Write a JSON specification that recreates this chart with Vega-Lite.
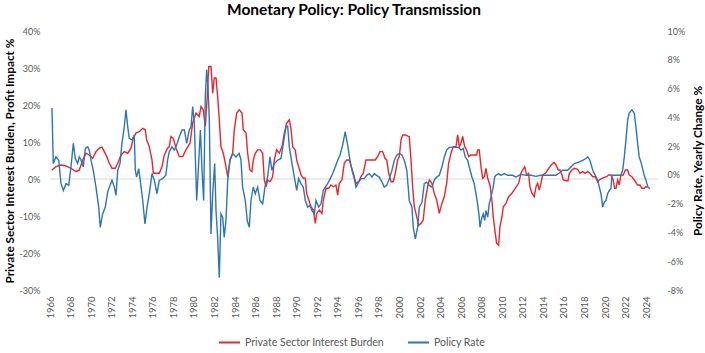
{
  "$schema": "https://vega.github.io/schema/vega-lite/v6.json",
  "width": 608,
  "height": 259,
  "autosize": {"type": "none"},
  "padding": {"left": 50, "top": 31, "right": 47, "bottom": 63},
  "background": "white",
  "title": {"text": "Monetary Policy: Policy Transmission", "font": "Lato", "fontSize": 15.5, "fontWeight": "bold", "color": "#000000", "anchor": "middle", "offset": 9},
  "config": {
    "view": {"stroke": null},
    "font": "Lato",
    "axis": {"labelFont": "Lato", "labelFontSize": 9, "labelColor": "#595959", "domain": false, "ticks": false, "grid": false, "titleFont": "Lato"},
    "axisX": {"labelOverlap": false, "labelFlush": false},
    "legend": {"labelFont": "Lato"}
  },
  "datasets": {
    "red": [
      {"t":1966.19,"v":2.44},{"t":1966.58,"v":3.33},{"t":1967.07,"v":3.79},{"t":1967.56,"v":3.52},{"t":1968.04,"v":2.9},{"t":1968.53,"v":1.98},{"t":1968.85,"v":2.44},{"t":1969.18,"v":5.15},{"t":1969.5,"v":6.96},{"t":1969.82,"v":6.5},
      {"t":1970.15,"v":5.6},{"t":1970.47,"v":7.4},{"t":1970.8,"v":8.32},{"t":1971.06,"v":8.59},{"t":1971.28,"v":7.4},{"t":1971.52,"v":6.04},{"t":1971.77,"v":4.25},{"t":1972.03,"v":2.9},{"t":1972.35,"v":2.9},{"t":1972.59,"v":4.25},
      {"t":1972.91,"v":6.5},{"t":1973.23,"v":7.4},{"t":1973.56,"v":6.96},{"t":1973.88,"v":8.32},{"t":1974.1,"v":11.0},{"t":1974.36,"v":12.4},{"t":1974.69,"v":12.8},{"t":1975.02,"v":13.7},{"t":1975.27,"v":13.3},{"t":1975.4,"v":10.6},
      {"t":1975.66,"v":8.75},{"t":1975.92,"v":5.15},{"t":1976.05,"v":1.54},{"t":1976.31,"v":1.54},{"t":1976.63,"v":1.54},{"t":1976.89,"v":3.33},{"t":1977.12,"v":6.5},{"t":1977.44,"v":8.32},{"t":1977.6,"v":8.75},{"t":1977.77,"v":11.5},
      {"t":1977.99,"v":11.0},{"t":1978.26,"v":8.32},{"t":1978.58,"v":6.04},{"t":1978.91,"v":6.04},{"t":1979.23,"v":7.86},{"t":1979.62,"v":9.67},{"t":1979.88,"v":15.1},{"t":1980.2,"v":17.8},{"t":1980.52,"v":16.9},{"t":1980.69,"v":19.6},
      {"t":1980.91,"v":18.7},{"t":1981.11,"v":14.2},{"t":1981.3,"v":22.3},{"t":1981.44,"v":30.4},{"t":1981.66,"v":30.4},{"t":1981.83,"v":23.2},{"t":1981.98,"v":27.3},{"t":1982.15,"v":27.3},{"t":1982.31,"v":22.3},{"t":1982.47,"v":16.0},
      {"t":1982.63,"v":8.75},{"t":1982.86,"v":6.96},{"t":1983.06,"v":4.25},{"t":1983.29,"v":0.62},{"t":1983.51,"v":5.15},{"t":1983.77,"v":6.96},{"t":1983.93,"v":13.3},{"t":1984.16,"v":17.8},{"t":1984.41,"v":18.7},{"t":1984.68,"v":17.8},
      {"t":1984.8,"v":13.3},{"t":1985.07,"v":12.4},{"t":1985.23,"v":6.96},{"t":1985.45,"v":2.44},{"t":1985.64,"v":1.98},{"t":1985.78,"v":5.15},{"t":1985.97,"v":6.96},{"t":1986.2,"v":7.86},{"t":1986.46,"v":7.86},{"t":1986.69,"v":6.96},
      {"t":1986.85,"v":-0.27},{"t":1987.02,"v":-2.09},{"t":1987.17,"v":-0.27},{"t":1987.4,"v":-0.73},{"t":1987.66,"v":0.62},{"t":1987.82,"v":5.15},{"t":1988.05,"v":7.86},{"t":1988.31,"v":6.96},{"t":1988.57,"v":8.75},{"t":1988.8,"v":12.4},
      {"t":1989.02,"v":15.1},{"t":1989.28,"v":16.0},{"t":1989.44,"v":13.7},{"t":1989.61,"v":8.75},{"t":1989.86,"v":7.86},{"t":1990.0,"v":5.15},{"t":1990.19,"v":3.33},{"t":1990.42,"v":1.08},{"t":1990.64,"v":0.19},{"t":1990.84,"v":0.19},
      {"t":1990.97,"v":-3.88},{"t":1991.17,"v":-5.69},{"t":1991.39,"v":-7.5},{"t":1991.62,"v":-8.4},{"t":1991.81,"v":-12.0},{"t":1991.95,"v":-9.3},{"t":1992.2,"v":-8.4},{"t":1992.46,"v":-9.3},{"t":1992.59,"v":-5.69},{"t":1992.85,"v":-2.52},
      {"t":1993.11,"v":-2.52},{"t":1993.33,"v":-1.63},{"t":1993.56,"v":-2.09},{"t":1993.82,"v":-1.63},{"t":1993.99,"v":-4.34},{"t":1994.14,"v":-1.17},{"t":1994.4,"v":-0.27},{"t":1994.63,"v":4.25},{"t":1994.86,"v":5.15},{"t":1995.12,"v":5.15},
      {"t":1995.31,"v":3.33},{"t":1995.5,"v":1.54},{"t":1995.77,"v":-1.17},{"t":1996.03,"v":-0.73},{"t":1996.25,"v":0.62},{"t":1996.48,"v":1.54},{"t":1996.74,"v":5.15},{"t":1997.0,"v":5.15},{"t":1997.32,"v":5.15},{"t":1997.64,"v":5.15},
      {"t":1997.87,"v":6.04},{"t":1998.1,"v":7.4},{"t":1998.36,"v":7.4},{"t":1998.59,"v":5.6},{"t":1998.76,"v":5.15},{"t":1998.95,"v":1.54},{"t":1999.18,"v":-0.73},{"t":1999.4,"v":-0.73},{"t":1999.59,"v":1.54},{"t":1999.82,"v":5.15},
      {"t":1999.98,"v":6.04},{"t":2000.15,"v":10.6},{"t":2000.31,"v":11.9},{"t":2000.57,"v":11.9},{"t":2000.82,"v":11.6},{"t":2000.95,"v":11.5},{"t":2001.12,"v":5.15},{"t":2001.28,"v":-2.09},{"t":2001.44,"v":-7.5},{"t":2001.6,"v":-9.3},
      {"t":2001.86,"v":-12.5},{"t":2002.09,"v":-12.0},{"t":2002.31,"v":-11.1},{"t":2002.51,"v":-5.69},{"t":2002.74,"v":-2.09},{"t":2002.9,"v":-0.27},{"t":2003.16,"v":-1.17},{"t":2003.38,"v":-3.88},{"t":2003.62,"v":-5.69},{"t":2003.87,"v":-9.3},
      {"t":2004.13,"v":-6.6},{"t":2004.36,"v":-4.8},{"t":2004.59,"v":-1.17},{"t":2004.78,"v":4.25},{"t":2005.01,"v":6.96},{"t":2005.23,"v":8.75},{"t":2005.5,"v":8.75},{"t":2005.66,"v":11.9},{"t":2005.82,"v":8.75},{"t":2005.98,"v":9.67},
      {"t":2006.15,"v":11.5},{"t":2006.34,"v":8.75},{"t":2006.53,"v":7.86},{"t":2006.73,"v":6.04},{"t":2006.95,"v":6.5},{"t":2007.27,"v":6.5},{"t":2007.51,"v":6.5},{"t":2007.6,"v":7.86},{"t":2007.76,"v":7.86},{"t":2007.93,"v":3.33},
      {"t":2008.09,"v":0.19},{"t":2008.25,"v":0.62},{"t":2008.41,"v":2.9},{"t":2008.58,"v":0.19},{"t":2008.8,"v":-1.63},{"t":2008.99,"v":-5.69},{"t":2009.12,"v":-10.2},{"t":2009.32,"v":-14.7},{"t":2009.45,"v":-17.4},{"t":2009.65,"v":-17.9},
      {"t":2009.77,"v":-12.9},{"t":2009.97,"v":-10.2},{"t":2010.1,"v":-7.5},{"t":2010.36,"v":-6.6},{"t":2010.62,"v":-4.8},{"t":2010.94,"v":-3.88},{"t":2011.26,"v":-2.52},{"t":2011.59,"v":-1.17},{"t":2011.82,"v":1.54},{"t":2011.98,"v":2.44},
      {"t":2012.18,"v":3.33},{"t":2012.37,"v":1.08},{"t":2012.56,"v":1.54},{"t":2012.69,"v":-2.09},{"t":2012.89,"v":-3.88},{"t":2013.11,"v":-4.8},{"t":2013.28,"v":-2.09},{"t":2013.44,"v":-1.17},{"t":2013.6,"v":-2.98},{"t":2013.76,"v":-1.17},
      {"t":2013.93,"v":1.08},{"t":2014.18,"v":1.54},{"t":2014.41,"v":2.44},{"t":2014.64,"v":3.33},{"t":2014.9,"v":4.25},{"t":2015.06,"v":4.42},{"t":2015.22,"v":3.79},{"t":2015.45,"v":2.44},{"t":2015.61,"v":2.44},{"t":2015.81,"v":1.08},
      {"t":2015.93,"v":-0.27},{"t":2016.19,"v":-0.46},{"t":2016.39,"v":-0.46},{"t":2016.52,"v":1.54},{"t":2016.78,"v":2.44},{"t":2017.0,"v":2.9},{"t":2017.33,"v":2.63},{"t":2017.56,"v":1.54},{"t":2017.82,"v":1.98},{"t":2018.07,"v":1.54},
      {"t":2018.31,"v":1.98},{"t":2018.53,"v":1.54},{"t":2018.8,"v":0.62},{"t":2019.05,"v":0.62},{"t":2019.28,"v":-0.73},{"t":2019.44,"v":-0.27},{"t":2019.7,"v":0.19},{"t":2019.92,"v":0.46},{"t":2020.15,"v":0.62},{"t":2020.35,"v":1.08},
      {"t":2020.57,"v":1.08},{"t":2020.79,"v":-0.27},{"t":2020.93,"v":-2.52},{"t":2021.06,"v":-2.52},{"t":2021.22,"v":-0.27},{"t":2021.38,"v":-1.63},{"t":2021.54,"v":1.08},{"t":2021.77,"v":1.08},{"t":2021.97,"v":2.44},{"t":2022.2,"v":2.44},
      {"t":2022.35,"v":1.08},{"t":2022.61,"v":0.62},{"t":2022.84,"v":-0.27},{"t":2023.17,"v":-1.63},{"t":2023.39,"v":-1.63},{"t":2023.59,"v":-2.52},{"t":2023.81,"v":-2.52},{"t":2023.98,"v":-2.09},{"t":2024.1,"v":-2.3}
    ],
    "blue": [
      {"t":1966.19,"v":4.64},{"t":1966.32,"v":0.79},{"t":1966.58,"v":1.25},{"t":1966.85,"v":1.02},{"t":1967.07,"v":-0.61},{"t":1967.3,"v":-1.08},{"t":1967.56,"v":-0.61},{"t":1967.82,"v":-0.73},{"t":1968.04,"v":0.55},{"t":1968.27,"v":2.19},
      {"t":1968.46,"v":1.14},{"t":1968.69,"v":0.79},{"t":1968.85,"v":1.25},{"t":1969.02,"v":1.02},{"t":1969.24,"v":0.55},{"t":1969.44,"v":1.84},{"t":1969.67,"v":1.95},{"t":1969.82,"v":1.72},{"t":1969.99,"v":1.02},{"t":1970.21,"v":0.32},
      {"t":1970.47,"v":-0.85},{"t":1970.74,"v":-2.24},{"t":1970.89,"v":-3.64},{"t":1971.12,"v":-2.71},{"t":1971.38,"v":-2.24},{"t":1971.61,"v":-1.2},{"t":1971.77,"v":-0.85},{"t":1972.03,"v":-0.38},{"t":1972.26,"v":-0.85},{"t":1972.42,"v":-1.43},
      {"t":1972.59,"v":0.32},{"t":1972.81,"v":0.79},{"t":1973.0,"v":2.19},{"t":1973.23,"v":3.35},{"t":1973.39,"v":4.52},{"t":1973.56,"v":3.35},{"t":1973.71,"v":2.54},{"t":1973.98,"v":2.42},{"t":1974.2,"v":2.77},{"t":1974.3,"v":0.32},
      {"t":1974.43,"v":-0.15},{"t":1974.63,"v":0.44},{"t":1974.78,"v":-0.38},{"t":1975.02,"v":-1.78},{"t":1975.24,"v":-3.41},{"t":1975.44,"v":-2.24},{"t":1975.66,"v":-1.31},{"t":1975.92,"v":0.09},{"t":1976.15,"v":-0.38},{"t":1976.41,"v":-1.31},
      {"t":1976.63,"v":-0.38},{"t":1976.96,"v":-0.26},{"t":1977.28,"v":0.0},{"t":1977.44,"v":1.02},{"t":1977.6,"v":1.6},{"t":1977.87,"v":1.95},{"t":1978.09,"v":1.72},{"t":1978.32,"v":2.07},{"t":1978.58,"v":2.65},{"t":1978.84,"v":3.12},
      {"t":1979.07,"v":3.12},{"t":1979.3,"v":2.19},{"t":1979.55,"v":3.12},{"t":1979.72,"v":3.35},{"t":1979.88,"v":4.75},{"t":1980.04,"v":3.59},{"t":1980.27,"v":-1.78},{"t":1980.46,"v":0.79},{"t":1980.63,"v":3.12},{"t":1980.79,"v":0.32},
      {"t":1980.95,"v":-1.78},{"t":1981.11,"v":5.45},{"t":1981.24,"v":7.31},{"t":1981.37,"v":6.15},{"t":1981.5,"v":3.82},{"t":1981.66,"v":-4.1},{"t":1981.83,"v":-1.31},{"t":1982.02,"v":0.79},{"t":1982.15,"v":-2.48},{"t":1982.31,"v":-4.34},
      {"t":1982.47,"v":-7.14},{"t":1982.63,"v":-2.71},{"t":1982.8,"v":-2.94},{"t":1982.95,"v":-4.34},{"t":1983.12,"v":-3.17},{"t":1983.29,"v":-0.38},{"t":1983.51,"v":1.02},{"t":1983.77,"v":1.49},{"t":1984.09,"v":1.25},{"t":1984.41,"v":1.49},
      {"t":1984.58,"v":1.02},{"t":1984.74,"v":-0.85},{"t":1985.0,"v":-1.78},{"t":1985.19,"v":-3.17},{"t":1985.39,"v":-3.64},{"t":1985.55,"v":-1.78},{"t":1985.78,"v":-0.85},{"t":1985.97,"v":-1.31},{"t":1986.2,"v":-0.85},{"t":1986.43,"v":-1.78},
      {"t":1986.69,"v":-2.01},{"t":1986.91,"v":-0.85},{"t":1987.17,"v":-0.15},{"t":1987.4,"v":1.25},{"t":1987.59,"v":0.32},{"t":1987.82,"v":0.79},{"t":1988.15,"v":1.02},{"t":1988.47,"v":1.14},{"t":1988.7,"v":2.19},{"t":1988.96,"v":3.35},
      {"t":1989.12,"v":3.4},{"t":1989.28,"v":1.95},{"t":1989.54,"v":0.79},{"t":1989.77,"v":-0.15},{"t":1990.0,"v":-1.08},{"t":1990.19,"v":-0.26},{"t":1990.42,"v":-0.61},{"t":1990.64,"v":-0.85},{"t":1990.84,"v":-1.78},{"t":1991.07,"v":-2.24},
      {"t":1991.29,"v":-2.13},{"t":1991.49,"v":-2.48},{"t":1991.71,"v":-2.71},{"t":1991.88,"v":-1.78},{"t":1992.14,"v":-2.24},{"t":1992.36,"v":-2.01},{"t":1992.59,"v":-1.08},{"t":1992.78,"v":-0.85},{"t":1993.01,"v":-0.61},{"t":1993.27,"v":-0.26},
      {"t":1993.5,"v":0.09},{"t":1993.75,"v":0.55},{"t":1993.99,"v":1.02},{"t":1994.21,"v":1.37},{"t":1994.47,"v":2.07},{"t":1994.72,"v":3.0},{"t":1994.96,"v":2.07},{"t":1995.18,"v":1.02},{"t":1995.38,"v":0.32},{"t":1995.6,"v":-0.26},
      {"t":1995.77,"v":-0.85},{"t":1996.03,"v":-0.5},{"t":1996.25,"v":-0.26},{"t":1996.58,"v":-0.26},{"t":1996.81,"v":-0.03},{"t":1997.06,"v":0.09},{"t":1997.32,"v":-0.15},{"t":1997.55,"v":0.09},{"t":1997.78,"v":-0.03},{"t":1998.03,"v":-0.15},
      {"t":1998.3,"v":-0.5},{"t":1998.52,"v":-0.85},{"t":1998.76,"v":-0.73},{"t":1999.01,"v":-0.26},{"t":1999.27,"v":0.32},{"t":1999.5,"v":1.02},{"t":1999.73,"v":1.37},{"t":1999.99,"v":1.49},{"t":2000.25,"v":1.37},{"t":2000.47,"v":1.02},
      {"t":2000.71,"v":0.32},{"t":2000.85,"v":-0.85},{"t":2000.95,"v":-1.78},{"t":2001.21,"v":-2.24},{"t":2001.34,"v":-3.64},{"t":2001.54,"v":-4.45},{"t":2001.77,"v":-3.64},{"t":2001.93,"v":-2.24},{"t":2002.19,"v":-1.9},{"t":2002.41,"v":-0.61},
      {"t":2002.64,"v":-0.5},{"t":2002.9,"v":-0.73},{"t":2003.16,"v":-0.85},{"t":2003.38,"v":-0.38},{"t":2003.62,"v":-0.15},{"t":2003.87,"v":-0.03},{"t":2004.13,"v":0.55},{"t":2004.36,"v":1.25},{"t":2004.59,"v":1.72},{"t":2004.84,"v":1.91},
      {"t":2005.33,"v":1.91},{"t":2005.76,"v":1.91},{"t":2005.98,"v":1.72},{"t":2006.2,"v":1.84},{"t":2006.4,"v":1.25},{"t":2006.63,"v":1.02},{"t":2006.79,"v":0.55},{"t":2007.05,"v":-0.15},{"t":2007.27,"v":-0.61},{"t":2007.44,"v":-1.31},
      {"t":2007.6,"v":-2.01},{"t":2007.76,"v":-2.94},{"t":2007.83,"v":-3.64},{"t":2008.02,"v":-2.94},{"t":2008.15,"v":-2.71},{"t":2008.29,"v":-3.17},{"t":2008.41,"v":-2.48},{"t":2008.58,"v":-2.94},{"t":2008.73,"v":-2.01},{"t":2008.9,"v":-1.55},
      {"t":2009.12,"v":-0.85},{"t":2009.26,"v":-0.15},{"t":2009.38,"v":-0.03},{"t":2009.65,"v":0.09},{"t":2009.87,"v":-0.03},{"t":2010.19,"v":0.09},{"t":2010.52,"v":-0.03},{"t":2011.01,"v":-0.03},{"t":2011.33,"v":-0.15},{"t":2011.82,"v":0.04},
      {"t":2012.3,"v":-0.03},{"t":2012.79,"v":-0.03},{"t":2013.28,"v":-0.1},{"t":2013.76,"v":-0.03},{"t":2014.25,"v":-0.03},{"t":2014.74,"v":-0.03},{"t":2015.22,"v":-0.03},{"t":2015.54,"v":0.13},{"t":2015.87,"v":0.32},{"t":2016.36,"v":0.32},
      {"t":2016.68,"v":0.55},{"t":2017.0,"v":0.79},{"t":2017.49,"v":0.9},{"t":2017.88,"v":1.02},{"t":2018.14,"v":1.14},{"t":2018.31,"v":1.25},{"t":2018.53,"v":1.02},{"t":2018.8,"v":0.32},{"t":2019.05,"v":-0.03},{"t":2019.28,"v":-0.38},
      {"t":2019.44,"v":-0.85},{"t":2019.6,"v":-1.31},{"t":2019.77,"v":-2.24},{"t":2019.92,"v":-1.9},{"t":2020.09,"v":-1.78},{"t":2020.25,"v":-1.31},{"t":2020.41,"v":-1.08},{"t":2020.57,"v":-0.96},{"t":2020.67,"v":-0.03},{"t":2020.89,"v":-0.03},
      {"t":2021.22,"v":-0.03},{"t":2021.54,"v":-0.03},{"t":2021.71,"v":0.32},{"t":2021.87,"v":1.25},{"t":2022.03,"v":2.42},{"t":2022.2,"v":3.82},{"t":2022.35,"v":4.29},{"t":2022.61,"v":4.52},{"t":2022.84,"v":4.29},{"t":2023.0,"v":3.35},
      {"t":2023.17,"v":2.19},{"t":2023.32,"v":1.25},{"t":2023.49,"v":0.9},{"t":2023.65,"v":0.44},{"t":2023.81,"v":-0.03},{"t":2023.98,"v":-0.38},{"t":2024.17,"v":-0.85},{"t":2024.36,"v":-0.96}
    ]
  },
  "layer": [
    {
      "data": {"values": [{"zero": 0}]},
      "mark": {"type": "rule", "color": "#d9d9d9", "strokeWidth": 1},
      "encoding": {
        "y": {"field": "zero", "type": "quantitative", "scale": {"domain": [-30, 40], "nice": false, "zero": false}, "axis": null}
      }
    },
    {
      "data": {"name": "red"},
      "mark": {"type": "line", "strokeWidth": 1.4, "interpolate": "linear"},
      "encoding": {
        "x": {"field": "t", "type": "quantitative", "scale": {"domain": [1966, 2025.15], "nice": false, "zero": false},
              "axis": {"orient": "bottom", "title": null, "values": [1966,1968,1970,1972,1974,1976,1978,1980,1982,1984,1986,1988,1990,1992,1994,1996,1998,2000,2002,2004,2006,2008,2010,2012,2014,2016,2018,2020,2022,2024], "format": "d", "labelAngle": -90, "labelPadding": 6, "labelFontSize": 9.5, "labelOverlap": false, "labelFlush": false, "labelBound": false}},
        "y": {"field": "v", "type": "quantitative", "scale": {"domain": [-30, 40], "nice": false, "zero": false},
              "axis": {"orient": "left", "values": [-30,-20,-10,0,10,20,30,40], "labelExpr": "datum.value + '%'", "labelPadding": 10, "title": "Private Sector Interest Burden, Profit Impact %", "titleFontSize": 11.8, "titleFontWeight": "bold", "titleColor": "#000000", "titlePadding": 4}},
        "color": {"datum": "Private Sector Interest Burden", "type": "nominal",
                  "scale": {"domain": ["Private Sector Interest Burden", "Policy Rate"], "range": ["#e8262b", "#2e75b6"]},
                  "legend": {"orient": "none", "legendX": 168, "legendY": 300, "title": null, "direction": "horizontal", "symbolType": "stroke", "symbolStrokeWidth": 2, "symbolSize": 440, "labelFontSize": 10.5, "labelColor": "#595959", "columnPadding": 20, "labelOffset": 4}}
      }
    },
    {
      "data": {"name": "blue"},
      "mark": {"type": "line", "strokeWidth": 1.4, "interpolate": "linear"},
      "encoding": {
        "x": {"field": "t", "type": "quantitative", "scale": {"domain": [1966, 2025.15], "nice": false, "zero": false},
              "axis": {"orient": "bottom", "title": null, "values": [1966,1968,1970,1972,1974,1976,1978,1980,1982,1984,1986,1988,1990,1992,1994,1996,1998,2000,2002,2004,2006,2008,2010,2012,2014,2016,2018,2020,2022,2024], "format": "d", "labelAngle": -90, "labelPadding": 6, "labelFontSize": 9.5, "labelOverlap": false, "labelFlush": false, "labelBound": false}},
        "y": {"field": "v", "type": "quantitative", "scale": {"domain": [-8, 10], "nice": false, "zero": false},
              "axis": {"orient": "right", "values": [-8,-6,-4,-2,0,2,4,6,8,10], "labelExpr": "datum.value + '%'", "labelPadding": 9, "title": "Policy Rate, Yearly Change %", "titleFontSize": 11.8, "titleFontWeight": "bold", "titleColor": "#000000", "titleAngle": 270, "titlePadding": 19}},
        "color": {"datum": "Policy Rate", "type": "nominal"}
      }
    }
  ],
  "resolve": {"scale": {"y": "independent"}}
}
